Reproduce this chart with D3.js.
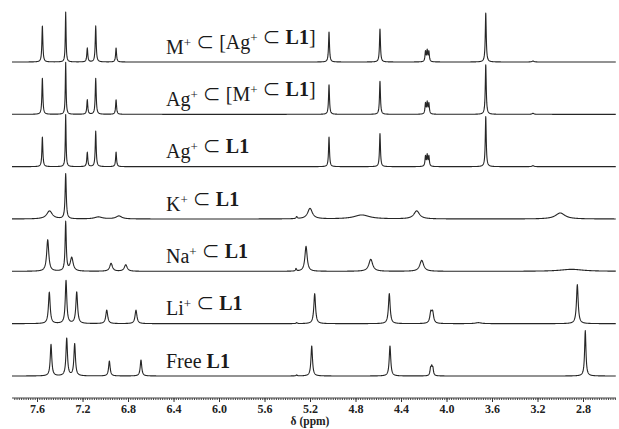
<!DOCTYPE html>
<html>
<head>
<meta charset="utf-8">
<script src="https://cdn.jsdelivr.net/npm/d3@7"></script>
<style>
  body { margin: 0; background: #fff; }
  svg { display: block; }
</style>
</head>
<body>
<script>
// spectrum names, top to bottom (^+ = superscript plus, *..* = bold)
const names = [
  "M^+ ⊂ [Ag^+ ⊂ *L1*]",
  "Ag^+ ⊂ [M^+ ⊂ *L1*]",
  "Ag^+ ⊂ *L1*",
  "K^+ ⊂ *L1*",
  "Na^+ ⊂ *L1*",
  "Li^+ ⊂ *L1*",
  "Free *L1*"
];

// peak lists: [shift (ppm), intensity (0-100), half width (ppm)]
const peaksMAgL1 = [
  [7.553, 72, .005], [7.348, 100, .004], [7.158, 28, .005], [7.084, 72, .005], [6.905, 28, .005],
  [5.033, 60, .005], [4.585, 66, .005], [4.185, 20, .005], [4.170, 22, .005], [4.155, 20, .005],
  [3.655, 98, .005], [3.240, 2, .01]
];
const peaksAgML1 = [
  [7.553, 72, .005], [7.348, 104, .004], [7.158, 29, .005], [7.084, 72, .005], [6.905, 29, .005],
  [5.033, 59, .005], [4.585, 66, .005], [4.185, 21, .005], [4.170, 23, .005], [4.155, 21, .005],
  [3.655, 99, .005], [3.240, 2, .01]
];
const peaksAgL1 = [
  [7.553, 59, .005], [7.348, 104, .004], [7.158, 29, .005], [7.084, 71, .005], [6.905, 29, .005],
  [5.033, 59, .005], [4.585, 66, .005], [4.185, 20, .005], [4.170, 22, .005], [4.155, 20, .005],
  [3.655, 100, .005], [3.240, 2, .01]
];
const peaksKL1 = [
  [7.490, 16, .03], [7.348, 90, .006], [7.060, 4, .04], [6.880, 6, .03],
  [5.317, 4, .006], [5.200, 21, .025], [4.745, 8, .08], [4.262, 16, .03], [3.000, 12, .05]
];
const peaksNaL1 = [
  [7.506, 63, .011], [7.348, 98, .006], [7.295, 27, .015], [6.949, 16, .014], [6.820, 13, .015],
  [5.323, 5, .005], [5.235, 50, .012], [4.666, 24, .02], [4.218, 22, .02], [2.900, 4, .12]
];
const peaksLiL1 = [
  [7.492, 63, .009], [7.345, 86, .008], [7.251, 63, .009], [6.987, 27, .01], [6.730, 27, .01],
  [5.317, 2, .006], [5.159, 60, .009], [4.503, 60, .009], [4.138, 21, .01], [4.122, 21, .01],
  [3.720, 2, .03], [2.850, 78, .009]
];
const peaksFreeL1 = [
  [7.477, 63, .008], [7.339, 75, .008], [7.269, 64, .008], [6.964, 30, .008], [6.686, 32, .008],
  [5.317, 2, .006], [5.185, 60, .008], [4.497, 60, .008], [4.140, 14, .006], [4.130, 15, .006], [4.120, 14, .006],
  [2.780, 91, .007]
];

const spectra = [peaksMAgL1, peaksAgML1, peaksAgL1, peaksKL1, peaksNaL1, peaksLiL1, peaksFreeL1];

// x-axis tick labels
const tickValues = [7.6, 7.2, 6.8, 6.4, 6.0, 5.6, 5.2, 4.8, 4.4, 4.0, 3.6, 3.2, 2.8];

const width = 619, height = 429;
const serif = "'Liberation Serif', 'Times New Roman', 'DejaVu Serif', serif";

const svg = d3.select("body").append("svg")
    .attr("width", width)
    .attr("height", height);

const x = d3.scaleLinear().domain([7.82, 2.51]).range([12, 616]); // ppm runs right to left
const row = d3.scalePoint().domain(d3.range(names.length)).range([62, 376]); // baseline of each trace
const y = d3.scaleLinear().domain([0, 100]).range([0, -50]); // intensity above the baseline

// Lorentzian line shape for each listed peak
const intensity = (peaks, p) => d3.sum(peaks, ([c, h, w]) => h * w * w / ((p - c) ** 2 + w * w));

const line = d3.line()
    .x(d => x(d[0]))
    .y(d => y(d[1]));

spectra.forEach((peaks, i) => {
  // sample the shifts finely, plus the peak centres so tops are hit exactly
  const shifts = d3.range(x.domain()[0], x.domain()[1], -0.002)
      .concat(peaks.map(p => p[0]))
      .sort((a, b) => b - a);
  const pts = shifts.map(p => [p, intensity(peaks, p)]);

  const g = svg.append("g").attr("transform", `translate(0,${row(i)})`);

  g.append("path")
      .datum(pts)
      .attr("fill", "none")
      .attr("stroke", "#262626")
      .attr("stroke-width", 1.1)
      .attr("stroke-linejoin", "round")
      .attr("d", line);

  // label with superscript "+" and bold L1
  const text = g.append("text")
      .attr("x", 166)
      .attr("y", -8.5)
      .style("font-family", serif)
      .style("font-size", "20px")
      .attr("fill", "#1a1a1a");

  names[i].split(/(\^\+|\*L1\*|⊂)/).filter(s => s).forEach(s => {
    if (s === "^+") {
      text.append("tspan").attr("dy", -7).style("font-size", "13px").text("+");
      text.append("tspan").attr("dy", 7).text("");
    } else if (s === "*L1*") {
      text.append("tspan").style("font-weight", "bold").text("L1");
    } else if (s === "⊂") {
      text.append("tspan")
          .attr("dy", 2)
          .style("font-family", "'Noto Sans CJK SC', 'DejaVu Sans', sans-serif")
          .style("font-size", "18px")
          .text("⊂");
      text.append("tspan").attr("dy", -2).text("");
    } else {
      text.append("tspan").text(s);
    }
  });
});

// x axis: minor ticks every 0.02 ppm, labelled ticks every 0.4 ppm
const axisY = 398;
const minor = d3.range(0, 266).map(k => +(7.80 - k * 0.02).toFixed(2)).filter(v => v >= 2.52);

svg.append("g")
    .attr("transform", `translate(0,${axisY})`)
    .call(d3.axisBottom(x).tickValues(minor).tickSize(2).tickFormat(""))
    .call(g => g.selectAll("line").attr("stroke", "#444"))
    .call(g => g.select(".domain").attr("stroke", "#444").attr("d", `M12,0H616`));

svg.append("g")
    .attr("transform", `translate(0,${axisY})`)
    .call(d3.axisBottom(x).tickValues(tickValues).tickSize(4).tickPadding(2).tickFormat(d3.format(".1f")))
    .call(g => g.select(".domain").remove())
    .call(g => g.selectAll("line").attr("stroke", "#333"))
    .call(g => g.selectAll("text")
        .style("font-family", serif)
        .style("font-size", "12px")
        .style("font-weight", "bold")
        .attr("fill", "#222"));

svg.append("text")
    .attr("x", 310)
    .attr("y", 425)
    .attr("text-anchor", "middle")
    .style("font-family", serif)
    .style("font-size", "11.5px")
    .style("font-weight", "bold")
    .attr("fill", "#222")
    .text("δ (ppm)");
</script>
</body>
</html>
